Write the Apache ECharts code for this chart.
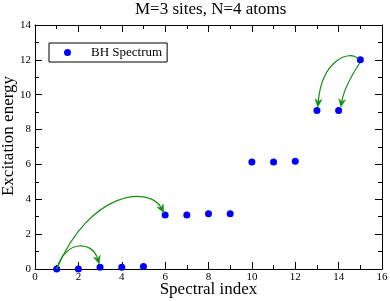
<!DOCTYPE html>
<html>
<head>
<meta charset="utf-8">
<script src="https://cdn.jsdelivr.net/npm/echarts@6/dist/echarts.min.js"></script>
<style>html,body{margin:0;padding:0;background:#fff}#c{width:390px;height:301px}</style>
</head>
<body>
<div id="c"></div>
<script>
// Data
const titleText = 'M=3 sites, N=4 atoms';
const seriesName = 'BH Spectrum';
const spectralIndex = [1, 2, 3, 4, 5, 6, 7, 8, 9, 10, 11, 12, 13, 14, 15];
const excitationEnergy = [0, 0, 0.1, 0.1, 0.15, 3.1, 3.1, 3.17, 3.17, 6.14, 6.14, 6.18, 9.1, 9.1, 12.0];
// Annotation arrows: [startX, startY, cp1X, cp1Y, cp2X, cp2Y, endX, endY] in data units
const arrowA = [1.0, 0.0, 1.38, 1.66, 2.63, 1.66, 2.96, 0.29];
const arrowB = [1.0, 0.0, 2.53, 4.53, 5.30, 4.76, 5.94, 3.23];
const arrowC = [14.9, 12.05, 14.52, 12.6, 13.23, 12.0, 13.04, 9.29];
const arrowD = [14.97, 11.82, 14.61, 11.13, 14.24, 10.27, 14.1, 9.29];
const xTicks = [0, 2, 4, 6, 8, 10, 12, 14, 16];
const yTicks = [0, 2, 4, 6, 8, 10, 12, 14];

const FONT = '"Liberation Serif", "DejaVu Serif", serif';
const chart = echarts.init(document.getElementById('c'), null, {renderer: 'canvas'});

const baseAxis = {
  axisLine: {show: true, onZero: false, lineStyle: {color: '#000', width: 1}},
  axisTick: {show: true, inside: true, length: 7, lineStyle: {color: '#000'}},
  minorTick: {show: true, splitNumber: 2, length: 4, lineStyle: {color: '#000'}},
  splitLine: {show: false},
  minorSplitLine: {show: false}
};

function arrowRender(params, api) {
  const p0 = api.coord([api.value(0), api.value(1)]);
  const c1 = api.coord([api.value(2), api.value(3)]);
  const c2 = api.coord([api.value(4), api.value(5)]);
  const p1 = api.coord([api.value(6), api.value(7)]);
  const dx = p1[0] - c2[0], dy = p1[1] - c2[1];
  const len = Math.sqrt(dx * dx + dy * dy) || 1;
  const ux = dx / len, uy = dy / len;
  const nx = -uy, ny = ux;
  const L = 8, W = 3.5, notch = 5.5;
  const tip = p1;
  const back = [tip[0] - ux * L, tip[1] - uy * L];
  const left = [back[0] + nx * W, back[1] + ny * W];
  const right = [back[0] - nx * W, back[1] - ny * W];
  const mid = [tip[0] - ux * notch, tip[1] - uy * notch];
  const color = '#128f12';
  return {
    type: 'group',
    children: [
      {type: 'bezierCurve', shape: {x1: p0[0], y1: p0[1], cpx1: c1[0], cpy1: c1[1], cpx2: c2[0], cpy2: c2[1], x2: mid[0], y2: mid[1]},
        style: {stroke: color, lineWidth: 1.2, fill: null}},
      {type: 'polygon', shape: {points: [tip, left, mid, right]}, style: {fill: color, stroke: color, lineWidth: 0.5}}
    ]
  };
}

const option = {
  animation: false,
  backgroundColor: '#fff',
  title: {
    text: titleText, left: 135, top: 1, padding: 0,
    textStyle: {fontFamily: FONT, fontSize: 17, fontWeight: 'normal', color: '#000'}
  },
  legend: {
    data: [seriesName], left: 49, top: 43, orient: 'vertical',
    padding: [3, 5, 3, 15], itemWidth: 7, itemHeight: 7, itemGap: 0,
    borderColor: '#000', borderWidth: 1, borderRadius: 0, backgroundColor: '#fff',
    textStyle: {fontFamily: FONT, fontSize: 13, color: '#000', padding: [0, 0, 0, 15]},
    itemStyle: {opacity: 1},
    icon: 'circle'
  },
  grid: {left: 35, right: 8, top: 25, bottom: 32, containLabel: false, outerBoundsMode: 'none'},
  xAxis: [
    Object.assign({}, baseAxis, {
      type: 'value', position: 'bottom', min: 0, max: 16, interval: 2,
      name: 'Spectral index', nameLocation: 'middle', nameGap: 12, nameMoveOverlap: false,
      nameTextStyle: {fontFamily: FONT, fontSize: 17, color: '#000'},
      axisLabel: {show: true, margin: 3, fontFamily: FONT, fontSize: 11, color: '#000',
        formatter: v => xTicks.includes(v) ? String(v) : ''}
    }),
    Object.assign({}, baseAxis, {
      type: 'value', position: 'top', min: 0, max: 16, interval: 2,
      axisLabel: {show: false}
    })
  ],
  yAxis: [
    Object.assign({}, baseAxis, {
      type: 'value', position: 'left', min: 0, max: 14, interval: 2,
      name: 'Excitation energy', nameLocation: 'middle', nameGap: 18, nameRotate: 90, nameMoveOverlap: false,
      nameTextStyle: {fontFamily: FONT, fontSize: 17, color: '#000', padding: [0, 0, 0, 22]},
      axisLabel: {show: true, margin: 4, fontFamily: FONT, fontSize: 11, color: '#000',
        formatter: v => yTicks.includes(v) ? String(v) : ''}
    }),
    Object.assign({}, baseAxis, {
      type: 'value', position: 'right', min: 0, max: 14, interval: 2,
      axisLabel: {show: false}
    })
  ],
  series: [
    {
      name: seriesName, type: 'scatter', xAxisIndex: 0, yAxisIndex: 0,
      symbol: 'circle', symbolSize: 7,
      itemStyle: {color: '#0000ff', opacity: 1},
      data: spectralIndex.map((x, i) => [x, excitationEnergy[i]]),
      z: 3
    },
    {
      name: 'arrows', type: 'custom', xAxisIndex: 0, yAxisIndex: 0,
      renderItem: arrowRender,
      encode: {x: [0, 2, 4, 6], y: [1, 3, 5, 7]},
      data: [arrowA, arrowB, arrowC, arrowD],
      silent: true, z: 4, clip: false
    }
  ]
};
chart.setOption(option);
</script>
</body>
</html>
